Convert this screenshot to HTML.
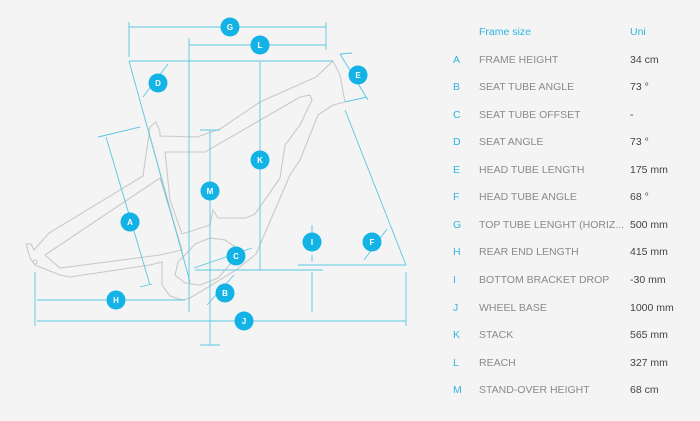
<!DOCTYPE html>
<html><head><meta charset="utf-8"><style>
body{margin:0;background:#f4f4f4;width:700px;height:421px;overflow:hidden;font-family:"Liberation Sans",sans-serif}
svg{position:absolute;left:0;top:0}
.t{position:absolute;font-size:10.5px;white-space:nowrap}
.l{color:#2fb4e0;left:453px}
.n{color:#8a8a8a;left:479px}
.v{color:#444;left:630px}
</style></head><body>
<svg width="700" height="421" viewBox="0 0 700 421">
<g fill="none" stroke="#c9c9c9" stroke-width="1.1">
<path d="M26,244 L31,244 L34,250 L49,233 L143,176 L150,127 L156,122 L160,132 L160,136 L197,137 L220,129 L260,102 L316,77 L333,61 L340,75 L345,102 L333,105 L318,115 L312,130 L300,160 L290,175 L256,254 L236,270 L205,289 L190,298 L182,300 L170,296 L162,285 L162,262 L150,265 L70,277 L60,275 L35,265 L30,258 Z"/>
<path d="M45,255 L160,178 L182,250 L160,255 L60,268 Z"/>
<path d="M165,152 L205,152 L250,126 L300,97 L310,95 L312,100 L300,125 L285,145 L280,178 L255,214 L246,218 L218,218 L213,210 L210,225 L182,234 L170,200 Z"/>
<path d="M188,252 L195,244 L210,238 L225,240 L237,248 L232,262 L218,278 L200,285 L185,283 L175,275 L178,262 Z"/>
<path d="M148,128 L185,262" stroke-dasharray="1.5,1.5"/>
<circle cx="35" cy="262" r="2"/>
</g>
<g stroke="#5cc6e2" stroke-width="0.9" fill="none">
<path d="M129,27H326M129,22V57M326,22V50"/>
<path d="M189,45H326M189,38V312"/>
<path d="M129,61H333M129,61L190,282"/>
<path d="M340,54L352,53M345,102L367,97M340,54L368,100"/>
<path d="M345,110L406,265M298,265H406M195,270H323"/>
<path d="M260,62V270"/>
<path d="M200,130H220M210,130V345M200,345H220"/>
<path d="M98,137L140,127M106,137L150,285M140,287L152,284"/>
<path d="M312,225V245M312,255V262M312,272V312"/>
<path d="M37,300H185"/>
<path d="M37,321H406M35,272V326M406,272V326"/>
<path d="M143,97L168,64M194,268L252,248"/>
<path d="M207,305L234,275"/>
<path d="M364,260L387,229"/>
</g>
<g fill="#13b3e6">
<circle cx="230" cy="27" r="9.5"/><circle cx="260" cy="45" r="9.5"/><circle cx="358" cy="75" r="9.5"/>
<circle cx="158" cy="83" r="9.5"/><circle cx="260" cy="160" r="9.5"/><circle cx="210" cy="191" r="9.5"/>
<circle cx="130" cy="222" r="9.5"/><circle cx="312" cy="242" r="9.5"/><circle cx="372" cy="242" r="9.5"/>
<circle cx="236" cy="256" r="9.5"/><circle cx="225" cy="293" r="9.5"/><circle cx="116" cy="300" r="9.5"/>
<circle cx="244" cy="321" r="9.5"/>
</g>
<g fill="#fff" font-family="Liberation Sans,sans-serif" font-size="8" font-weight="bold" text-anchor="middle">
<text x="230" y="30">G</text><text x="260" y="48">L</text><text x="358" y="78">E</text>
<text x="158" y="86">D</text><text x="260" y="163">K</text><text x="210" y="194">M</text>
<text x="130" y="225">A</text><text x="312" y="245">I</text><text x="372" y="245">F</text>
<text x="236" y="259">C</text><text x="225" y="296">B</text><text x="116" y="303">H</text>
<text x="244" y="324">J</text>
</g>
</svg>
<div class="t" style="left:479px;top:26px;color:#2fb4e0">Frame size</div>
<div class="t" style="left:630px;top:26px;color:#2fb4e0">Uni</div>
<div class="t l" style="top:54px">A</div><div class="t n" style="top:54px">FRAME HEIGHT</div><div class="t v" style="top:54px">34 cm</div>
<div class="t l" style="top:81px">B</div><div class="t n" style="top:81px">SEAT TUBE ANGLE</div><div class="t v" style="top:81px">73 °</div>
<div class="t l" style="top:109px">C</div><div class="t n" style="top:109px">SEAT TUBE OFFSET</div><div class="t v" style="top:109px">-</div>
<div class="t l" style="top:136px">D</div><div class="t n" style="top:136px">SEAT ANGLE</div><div class="t v" style="top:136px">73 °</div>
<div class="t l" style="top:164px">E</div><div class="t n" style="top:164px">HEAD TUBE LENGTH</div><div class="t v" style="top:164px">175 mm</div>
<div class="t l" style="top:191px">F</div><div class="t n" style="top:191px">HEAD TUBE ANGLE</div><div class="t v" style="top:191px">68 °</div>
<div class="t l" style="top:219px">G</div><div class="t n" style="top:219px">TOP TUBE LENGHT (HORIZ...</div><div class="t v" style="top:219px">500 mm</div>
<div class="t l" style="top:246px">H</div><div class="t n" style="top:246px">REAR END LENGTH</div><div class="t v" style="top:246px">415 mm</div>
<div class="t l" style="top:274px">I</div><div class="t n" style="top:274px">BOTTOM BRACKET DROP</div><div class="t v" style="top:274px">-30 mm</div>
<div class="t l" style="top:302px">J</div><div class="t n" style="top:302px">WHEEL BASE</div><div class="t v" style="top:302px">1000 mm</div>
<div class="t l" style="top:329px">K</div><div class="t n" style="top:329px">STACK</div><div class="t v" style="top:329px">565 mm</div>
<div class="t l" style="top:357px">L</div><div class="t n" style="top:357px">REACH</div><div class="t v" style="top:357px">327 mm</div>
<div class="t l" style="top:384px">M</div><div class="t n" style="top:384px">STAND-OVER HEIGHT</div><div class="t v" style="top:384px">68 cm</div>
</body></html>
